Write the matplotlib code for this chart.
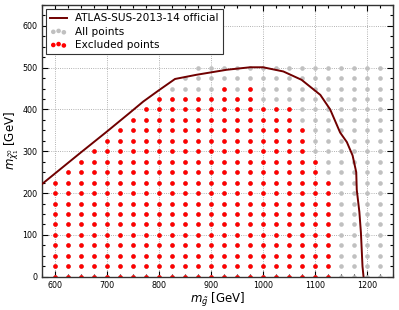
"""
Gluino-LSP mass plane: scanned points, points excluded by the recast,
and the official ATLAS-SUS-2013-14 exclusion contour.
"""

import matplotlib
matplotlib.use("Agg")
import matplotlib.pyplot as plt
from matplotlib.ticker import MultipleLocator

# scan grid: gluino masses and highest LSP mass per column (step 25 GeV)
mgluino = [600, 625, 650, 675, 700, 725, 750, 775, 800, 825, 850, 875, 900,
           925, 950, 975, 1000, 1025, 1050, 1075, 1100, 1125, 1150, 1175,
           1200, 1225]
top_all = [225, 250, 275, 300, 325, 350, 375, 400, 425, 450, 475, 500, 500,
           500, 500, 500, 500, 500, 500, 500, 500, 500, 500, 500, 500, 500]
# highest excluded LSP mass per column (None = nothing excluded)
top_excl = [225, 250, 275, 300, 325, 350, 375, 400, 425, 425, 425, 425, 425,
            450, 425, 450, 400, 400, 400, 350, 275, 225, None, None, None, None]
lsp_step = 25

# official contour
contour_mg = [575, 648, 700, 744, 770, 800, 831, 872, 930, 975, 1000, 1039,
              1074, 1110, 1129, 1148, 1161, 1172, 1179, 1180, 1185, 1188,
              1191, 1193]
contour_mlsp = [221, 295, 347, 392, 419, 446, 473, 483, 495, 501, 501, 491,
                471, 435, 400, 345, 322, 290, 250, 208, 155, 105, 25, 0]


def column_points(tops):
    xs, ys = [], []
    for mg, top in zip(mgluino, tops):
        if top is None:
            continue
        for m in range(0, top + 1, lsp_step):
            xs.append(mg)
            ys.append(m)
    return xs, ys


all_x, all_y = column_points(top_all)
exc_x, exc_y = column_points(top_excl)

fig = plt.figure(figsize=(3.99, 3.10), dpi=100)
ax = fig.add_axes([0.1045, 0.1074, 0.881, 0.8765])

ax.plot(contour_mg, contour_mlsp, color="#700000", linewidth=1.4,
        label="ATLAS-SUS-2013-14 official", zorder=3)
ax.scatter(all_x, all_y, s=11, color="#c0c0c0", linewidths=0,
           label="All points", zorder=2)
ax.scatter(exc_x, exc_y, s=11, color="#ff0000", linewidths=0,
           label="Excluded points", zorder=2)

ax.set_xlim(575, 1250)
ax.set_ylim(0, 650)
ax.xaxis.set_major_locator(MultipleLocator(100))
ax.yaxis.set_major_locator(MultipleLocator(100))
ax.xaxis.set_minor_locator(MultipleLocator(25))
ax.yaxis.set_minor_locator(MultipleLocator(25))
ax.tick_params(which="both", direction="in", top=True, right=True,
               labelsize=5.8, width=0.8, pad=3)
ax.tick_params(which="major", length=4)
ax.tick_params(which="minor", length=2)
ax.grid(True, which="major", color="#999999", linestyle=":", linewidth=0.6)
ax.set_axisbelow(True)
for sp in ax.spines.values():
    sp.set_linewidth(1.0)
    sp.set_color("#333333")

ax.set_xlabel(r"$m_{\tilde{g}}$ [GeV]", fontsize=8.5, labelpad=1)
ax.set_ylabel(r"$m_{\tilde{\chi}_1^0}$ [GeV]", fontsize=8.5, labelpad=1)

leg = ax.legend(loc="upper left", fontsize=7.6, scatterpoints=3,
                scatteryoffsets=[0.375, 0.5, 0.3125], fancybox=False,
                edgecolor="#333333", framealpha=1, borderaxespad=0.4,
                handlelength=1.6, handletextpad=0.8, labelspacing=0.3,
                borderpad=0.4)
leg.get_frame().set_linewidth(0.8)

fig.savefig("out.png", dpi=100)
